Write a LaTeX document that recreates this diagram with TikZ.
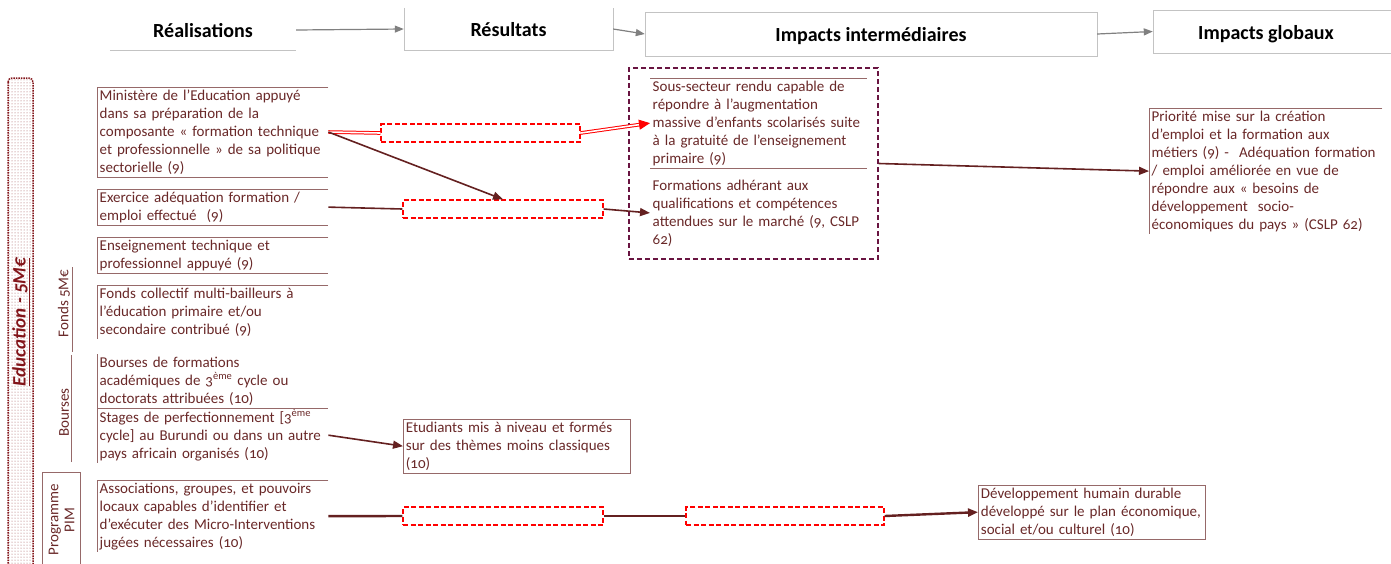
\documentclass[tikz,border=0pt]{standalone}
\usepackage{fontspec}
\setmainfont{Carlito}[Numbers=OldStyle]
\usetikzlibrary{arrows.meta,patterns,calc}
\definecolor{txtbrown}{RGB}{105,40,40}
\definecolor{boxbrown}{RGB}{150,105,105}
\definecolor{arrbrown}{RGB}{100,32,32}
\definecolor{edured}{RGB}{130,20,25}
\definecolor{purpdash}{RGB}{105,20,65}
\definecolor{hdrgray}{RGB}{128,128,128}
\definecolor{hdrbox}{RGB}{195,195,195}
\tikzset{
  hdr/.style={font=\bfseries\fontsize{20}{22}\selectfont, inner sep=0pt},
  real/.style={anchor=north west, text width=226pt, inner sep=2.5pt, align=left,
    font=\fontsize{15}{18}\selectfont, text=txtbrown},
  boxln/.style={draw=boxbrown, line width=0.8pt},
  side/.style={rotate=90, font=\fontsize{15}{16}\selectfont, text=txtbrown, inner sep=2pt},
  phbox/.style={draw=red, dash pattern=on 5pt off 2.5pt, line width=1.3pt, minimum height=18pt, inner sep=0pt},
  grayarr/.style={draw=hdrgray, line width=1.2pt, -{Triangle[length=9pt,width=7pt]}},
  brarr/.style={draw=arrbrown, line width=1.6pt, -{Triangle[length=10pt,width=8pt]}},
  brln/.style={draw=arrbrown, line width=1.6pt},
  dbl/.style={draw=red, double=white, double distance=1.6pt, line width=1pt},
  redtip/.style={draw=red, line width=1pt, -{Triangle[length=11pt,width=10pt]}}
}
\newcommand\hdrtxt[1]{\raisebox{-7.5pt}[0pt][0pt]{#1}}
\begin{document}
\begin{tikzpicture}[x=1pt,y=-1pt]
\useasboundingbox (0,0) rectangle (1391,563);
% headers
\node[hdr, minimum width=186pt, minimum height=40pt] (realis) at (203,30) {\hdrtxt{Réalisations}};
\node[hdr, minimum width=209pt, minimum height=42pt] (result) at (508.5,29) {\hdrtxt{Résultats}};
\node[hdr, minimum width=452pt, minimum height=44pt, draw=hdrbox] (intermed) at (871,34) {\hdrtxt{Impacts intermédiaires}};
\node[hdr, minimum width=238pt, minimum height=43pt] (global) at (1272,31.5) {\hspace*{-12pt}\hdrtxt{Impacts globaux}};
\draw[draw=hdrbox] (realis.south west) -- (realis.south east);
\draw[draw=hdrbox] (result.north west) -- (result.south west) -- (result.south east) -- (result.north east);
\draw[draw=hdrbox] (global.north east) -- (global.north west) -- (global.south west) -- (global.south east);
\draw[grayarr] (realis.east) -- (result.west);
\draw[grayarr] (result.east) -- (intermed.west);
\draw[grayarr] (intermed.east) -- (global.west);
% left side
\draw[draw=edured, densely dotted, line width=1.5pt, rounded corners=4pt,
  pattern=dots, pattern color=edured!75] (8,78) rectangle (33,580);
\node[rotate=90, font=\bfseries\itshape\fontsize{19}{21}\selectfont, text=edured] (edul) at (21,322) {\underline{Education - 5M€}};
\node[side, minimum width=75pt] (fondsl) at (64,309.5) {\hspace*{12pt}Fonds 5M€};
\node[side, minimum width=107pt] (boursl) at (64,408.5) {\hspace*{-8pt}Bourses};
\node[side, minimum width=94pt, minimum height=37pt, align=center] (piml) at (61.5,520) {Programme\\PIM};
\draw[boxln] (fondsl.south west) -- (fondsl.south east);
\draw[boxln] (boursl.south west) -- (boursl.south east);
\draw[boxln] (piml.north west) -- (piml.north east) -- (piml.south east) -- (piml.south west);
% realisations
\node[real] (minist) at (97,87) {Ministère de l’Education appuyé\\dans sa préparation de la\\composante « formation technique\\et professionnelle » de sa politique\\sectorielle (9)};
\node[real] (exerc) at (97,189) {Exercice adéquation formation /\\emploi effectué~ (9)};
\node[real] (enseig) at (97,237) {Enseignement technique et\\professionnel appuyé (9)};
\node[real] (fonds) at (97,285) {Fonds collectif multi-bailleurs à\\l’éducation primaire et/ou\\secondaire contribué (9)};
\node[real] (bourse) at (97,354) {Bourses de formations\\académiques de 3\textsuperscript{ème} cycle ou\\doctorats attribuées (10)};
\node[real] (stages) at (97,407) {Stages de perfectionnement [3\textsuperscript{ème}\\cycle] au Burundi ou dans un autre\\pays africain organisés (10)};
\node[real] (assoc) at (97,480) {Associations, groupes, et pouvoirs\\locaux capables d’identifier et\\d’exécuter des Micro-Interventions\\jugées nécessaires (10)};
\foreach \b in {minist,exerc,enseig}
  \draw[boxln] (\b.north east) -- (\b.north west) -- (\b.south west) -- (\b.south east);
\draw[boxln] (fonds.north east) -- (fonds.north west) -- (fonds.south west);
\draw[boxln] (bourse.north west) -- (bourse.south west) -- (bourse.south east);
\draw[boxln] (stages.north west) -- (stages.south west);
\draw[boxln] (assoc.north east) -- (assoc.north west) -- (assoc.south west);
% resultats et impacts
\node[draw=purpdash, line width=1.5pt, dash pattern=on 5pt off 3pt, minimum width=249pt, minimum height=191pt] (impint) at (753.5,163.5) {};
\node[real, text width=212pt] (sous) at (650,78) {Sous-secteur rendu capable de\\répondre à l’augmentation\\massive d’enfants scolarisés suite\\à la gratuité de l’enseignement\\primaire (9)};
\node[real, text width=212pt] (form) at (650,177) {Formations adhérant aux\\qualifications et compétences\\attendues sur le marché (9, CSLP\\62)};
\draw[boxln] (sous.north west) -- (sous.north east);
\draw[boxln] (sous.south west) -- (sous.south east);
\node[real, text width=228pt] (prio) at (1149,108) {Priorité mise sur la création\\d’emploi et la formation aux\\métiers (9) -~ Adéquation formation\\/ emploi améliorée en vue de\\répondre aux « besoins de\\développement~ socio-\\économiques du pays » (CSLP 62)};
\draw[boxln] (prio.north east) -- (prio.north west) -- (prio.south west);
\node[real, text width=222pt, draw=boxbrown, line width=0.8pt] (etud) at (403,419) {Etudiants mis à niveau et formés\\sur des thèmes moins classiques\\(10)};
\node[real, text width=222pt, draw=boxbrown, line width=0.8pt] (devh) at (978,485) {Développement humain durable\\développé sur le plan économique,\\social et/ou culturel (10)};
\node[phbox, minimum width=199pt] (ph1) at (480.5,133) {};
\node[phbox, minimum width=200pt] (ph2) at (503,209) {};
\node[phbox, minimum width=200pt] (ph3) at (503,516) {};
\node[phbox, minimum width=198pt] (ph4) at (785,516) {};
% liens
\draw[dbl] (minist.east) -- (ph1.west);
\draw[dbl, shorten >=8pt] (ph1.east) -- (sous.west);
\draw[redtip] ($(ph1.east)!0.85!(sous.west)$) -- (sous.west);
\draw[brarr] (minist.east) -- (ph2.north);
\draw[brln] (exerc.east) -- (ph2.west);
\draw[brarr] (ph2.east) -- (form.west);
\draw[brarr] (impint.east) -- (prio.west);
\draw[brarr] (stages.east) -- (etud.west);
\draw[brln, line width=2.4pt] (assoc.east) -- (ph3.west);
\draw[brln, line width=2.4pt] (ph3.east) -- (ph4.west);
\draw[brarr, line width=2.4pt] (ph4.east) -- (devh.west);
\end{tikzpicture}
\end{document}
